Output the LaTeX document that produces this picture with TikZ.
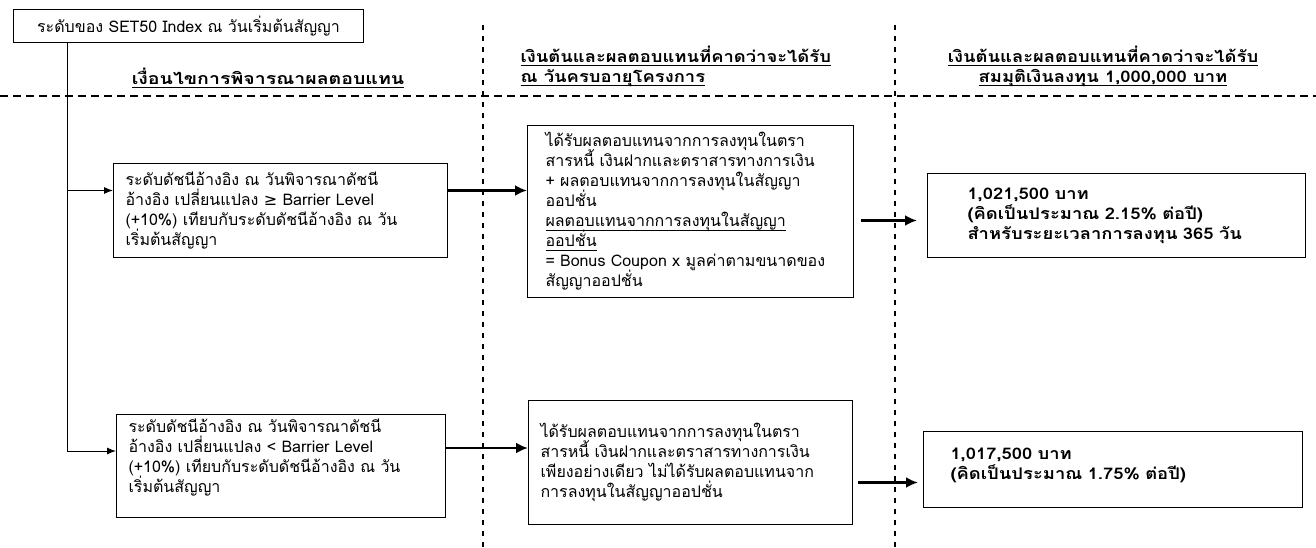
\documentclass[tikz,border=0pt]{standalone}
\usepackage{fontspec}
\setmainfont[Script=Thai]{Loma}
\newfontfamily\symfont{DejaVu Sans}
\usetikzlibrary{arrows.meta,positioning,calc}
\newcommand{\diagfont}{\fontsize{16}{20}\selectfont\lineskiplimit=-20pt}
\newcommand{\boldwide}[1]{\bfseries\addfontfeature{FakeStretch=#1}}
\newcommand{\ulthai}[1]{\underline{\raisebox{0pt}[\height][2pt]{#1}}}

\begin{document}
\begin{tikzpicture}[x=1pt, y=-1pt, box/.style={draw, line width=1pt, anchor=north west, align=left, inner ysep=0pt, font=\diagfont}, head/.style={font=\diagfont\boldwide{1.15}}, branch/.style={->, >={Latex[length=9pt,width=7pt]}, line width=1pt}, flow/.style={->, >={Latex[length=12pt,width=11pt]}, line width=2.5pt}, hsep/.style={line width=1.5pt, dash pattern=on 8pt off 5pt}, vsep/.style={line width=1.2pt, dash pattern=on 5pt off 6pt}]
  \useasboundingbox (0,0) rectangle (1316,548);

  % Column separators
  \draw[hsep] (0,96) -- (1316,96);
  \draw[vsep] (483,25) -- (483,548);
  \draw[vsep] (895,25) -- (895,548);

  % Column headings
  \node[head, font=\diagfont\boldwide{1.22}] (hdA) at (268,78) {\ulthai{เงื่อนไขการพิจารณาผลตอบแทน}};
  \node[head, anchor=west, align=left] (hdB) at (517,66) {\ulthai{เงินต้นและผลตอบแทนที่คาดว่าจะได้รับ}\\ \ulthai{ณ วันครบอายุโครงการ}};
  \node[head, align=center] (hdC) at (1103,66) {\ulthai{เงินต้นและผลตอบแทนที่คาดว่าจะได้รับ}\\ \ulthai{สมมุติเงินลงทุน 1,000,000 บาท}};

  % Start level and the two conditions
  \node[box, align=center, minimum width=350, minimum height=33] (top) at (13,9) {ระดับของ SET50 Index ณ วันเริ่มต้นสัญญา};
  \node[box, minimum height=94, inner xsep=12pt, text width=310pt] (condA) at (113,163) {ระดับดัชนีอ้างอิง ณ วันพิจารณาดัชนี\\ อ้างอิง เปลี่ยนแปลง {\symfont ≥} Barrier Level\\ (+10\%) เทียบกับระดับดัชนีอ้างอิง ณ วัน\\ เริ่มต้นสัญญา};
  \node[box, minimum height=103, inner xsep=12pt, text width=305pt] (condB) at (116,414) {ระดับดัชนีอ้างอิง ณ วันพิจารณาดัชนี\\ อ้างอิง เปลี่ยนแปลง < Barrier Level\\ (+10\%) เทียบกับระดับดัชนีอ้างอิง ณ วัน\\ เริ่มต้นสัญญา\\ \mbox{}};

  % Returns at maturity
  \node[box, minimum height=172, inner xsep=18pt, text width=290pt] (midA) at (527,125) {ได้รับผลตอบแทนจากการลงทุนในตรา\\ สารหนี้ เงินฝากและตราสารทางการเงิน\\ + ผลตอบแทนจากการลงทุนในสัญญา\\ ออปชั่น\\ \ulthai{ผลตอบแทนจากการลงทุนในสัญญา}\\ \ulthai{ออปชั่น}\\ = Bonus Coupon x มูลค่าตามขนาดของ\\ สัญญาออปชั่น};
  \node[box, minimum height=124, inner xsep=12pt, text width=300pt] (midB) at (528,400) {ได้รับผลตอบแทนจากการลงทุนในตรา\\ สารหนี้ เงินฝากและตราสารทางการเงิน\\ เพียงอย่างเดียว ไม่ได้รับผลตอบแทนจาก\\ การลงทุนในสัญญาออปชั่น};

  % Amounts for 1,000,000 baht
  \node[box, font=\diagfont\boldwide{1.15}, minimum height=84, inner xsep=40pt, text width=298pt] (resA) at (927,173) {1,021,500 บาท\\ (คิดเป็นประมาณ 2.15\% ต่อปี)\\ สำหรับระยะเวลาการลงทุน 365 วัน};
  \node[box, font=\diagfont\boldwide{1.15}, minimum height=76, inner xsep=27pt, text width=325pt] (resB) at (923,431) {1,017,500 บาท\\ (คิดเป็นประมาณ 1.75\% ต่อปี)\\[-8pt] \mbox{}};

  % Branches from the start level
  \coordinate (trunk) at ([xshift=54pt]top.south west);
  \coordinate (inA) at ([yshift=20pt]condA.west);
  \coordinate (inB) at ([yshift=15pt]condB.west);
  \draw[branch] (trunk) |- (inB);
  \draw[branch] (trunk |- inA) -- (inA);

  % Arrows across the columns
  \coordinate (outA) at ([yshift=20pt]condA.east);
  \coordinate (outB) at ([yshift=18pt]condB.east);
  \coordinate (endA) at ([xshift=-10pt,yshift=-5pt]resA.west);
  \coordinate (endB) at ([xshift=-5pt,yshift=-13pt]resB.west);
  \draw[flow] (outA) -- (outA -| midA.west);
  \draw[flow] (outB) -- (outB -| midB.west);
  \draw[flow] (endA -| midA.east) ++(7,0) -- (endA);
  \draw[flow] (endB -| midB.east) ++(5,0) -- (endB);
\end{tikzpicture}
\end{document}
